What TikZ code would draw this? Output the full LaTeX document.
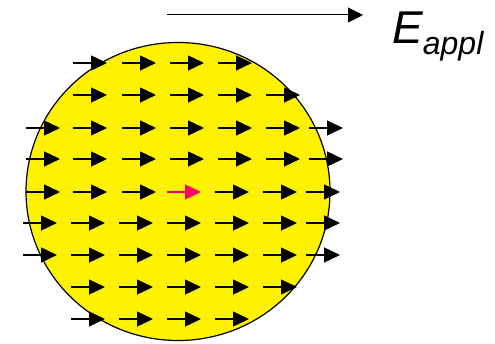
\documentclass[tikz,border=0pt]{standalone}
\usepackage{fontspec}
\setmainfont{Liberation Sans}
\usetikzlibrary{arrows.meta}
\definecolor{fieldred}{HTML}{FF0066}

\begin{document}
\begin{tikzpicture}[
  x=1pt, y=-1pt,
  sphere/.style={draw, line width=1.2pt, fill=yellow},
  fld/.style={-{Triangle[length=16pt, width=15pt]}, line width=1.4pt},
  applied/.style={-{Triangle[length=15pt, width=15pt]}, line width=1pt},
  lbl/.style={inner sep=0pt, anchor=base west},
]
\useasboundingbox (0,0) rectangle (495,344);
\draw[sphere] (178,191.5) ellipse [x radius=152, y radius=149];
% local field inside the sphere, row by row
\foreach \y/\xs in {63/{73,122,170,218},
                    95/{73,122,170,218,266},
                    128/{26,73,122,170,218,266,309},
                    159/{26,73,122,170,218,266,309},
                    192/{26,73,122,215,263,306},
                    223/{23,71,119,167,215,263,306},
                    255/{23,71,119,167,215,263,306},
                    287/{71,119,167,215,263},
                    319/{71,119,167,215}}
  \foreach \x in \xs
    \draw[fld] (\x,\y) -- ++(34,0);
\draw[fld, fieldred] (167,192) -- ++(34,0);
% applied field
\coordinate (eA) at (167,15);
\coordinate (eB) at (363,15);
\draw[applied] (eA) -- (eB);
\node[lbl] (eappl) at (392,44) {\fontsize{46}{46}\selectfont\itshape E\raisebox{-11pt}{\fontsize{32}{32}\selectfont appl}};
\end{tikzpicture}
\end{document}
